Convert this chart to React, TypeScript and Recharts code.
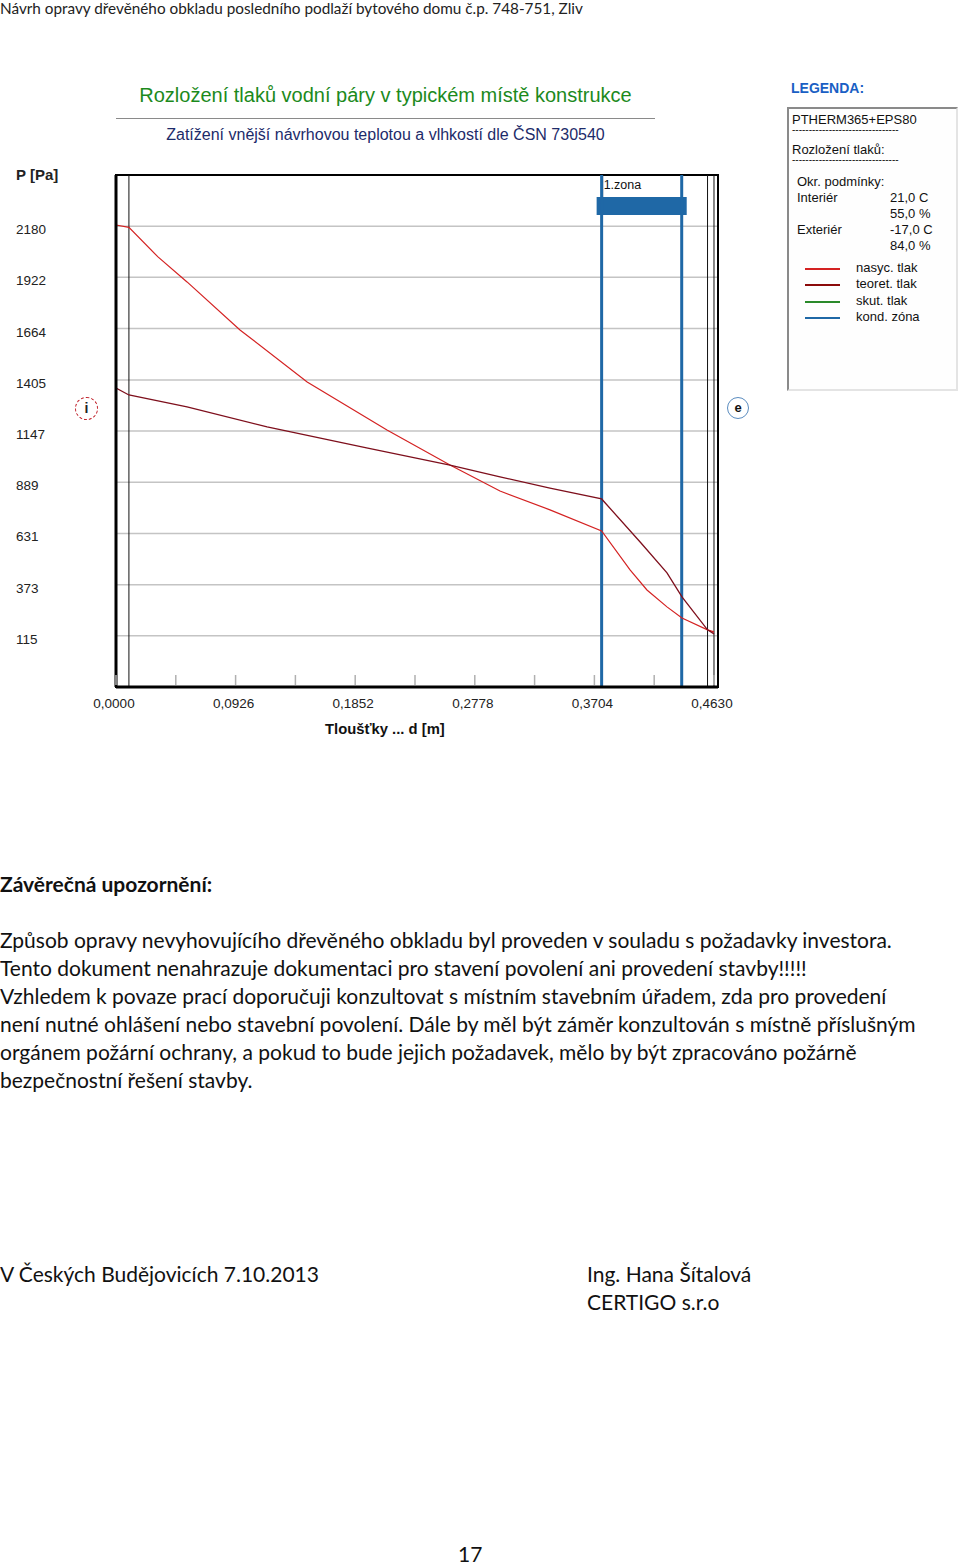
import React from 'react';
import {
  LineChart,
  Line,
  XAxis,
  YAxis,
  CartesianGrid,
  ReferenceLine,
  ReferenceArea,
} from 'recharts';

// tloušťka d [m] a tlaky [Pa]
const SAT_D = [0, 0.01, 0.0325, 0.055, 0.096, 0.148, 0.2098, 0.2586, 0.2973, 0.336, 0.376, 0.398, 0.4111, 0.4266, 0.4382, 0.458, 0.463];
const SAT_P = [2186, 2174, 2025, 1899, 1657, 1395, 1153, 976, 845, 750, 644, 447, 346, 261, 205, 145, 135];

const PART_D = [0, 0.01, 0.055, 0.117, 0.194, 0.2586, 0.2973, 0.336, 0.376, 0.4065, 0.4266, 0.4382, 0.458, 0.463];
const PART_P = [1364, 1329, 1269, 1168, 1062, 976, 916, 860, 805, 583, 432, 311, 145, 125];

const LAYER_BOUNDS = [0.01, 0.458, 0.463];
const ZONE = [0.376, 0.438];

const X_TICKS = [0, 0.0463, 0.0926, 0.1389, 0.1852, 0.2315, 0.2778, 0.3241, 0.3704, 0.4167, 0.463];
const X_LABELLED = [0, 0.0926, 0.1852, 0.2778, 0.3704, 0.463];
const Y_TICKS = [115, 373, 631, 889, 1147, 1405, 1664, 1922, 2180];

const X_DOMAIN: [number, number] = [0, 0.4661];
const Y_DOMAIN: [number, number] = [-143, 2438];

const RED = '#d42222';
const DARK_RED = '#7e0f1c';
const GREEN = '#2a8a2a';
const BLUE = '#1f68a6';

const LEGEND_ITEMS = [
  { label: 'nasyc. tlak', color: RED },
  { label: 'teoret. tlak', color: '#8b0a0a' },
  { label: 'skut. tlak', color: GREEN },
  { label: 'kond. zóna', color: BLUE },
];

const BODY_LINES = [
  'Způsob opravy nevyhovujícího dřevěného obkladu byl proveden v souladu s požadavky investora.',
  'Tento dokument nenahrazuje dokumentaci pro stavení povolení ani provedení stavby!!!!!',
  'Vzhledem k povaze prací doporučuji konzultovat s místním stavebním úřadem, zda pro provedení',
  'není nutné ohlášení nebo stavební povolení. Dále by měl být záměr konzultován s místně příslušným',
  'orgánem požární ochrany, a pokud to bude jejich požadavek, mělo by být zpracováno požárně',
  'bezpečnostní řešení stavby.',
];

const saturation = SAT_D.map((d, i) => ({ d, p: SAT_P[i] }));
const partial = PART_D.map((d, i) => ({ d, p: PART_P[i] }));

const CHART_FONT = '"Liberation Sans", Arial, sans-serif';
const PAGE_FONT = 'Lato, "Open Sans", sans-serif';
const PAGE_SIZE = 21;

const fmt = (v: number) => v.toFixed(4).replace('.', ',');

const YTick = (props: any) => {
  const { x, y, payload } = props;
  return (
    <text x={x - 100} y={y} dy={8} textAnchor="start" fontSize={13.5} fill="#222" fontFamily={CHART_FONT}>
      {payload.value}
    </text>
  );
};

const XTick = (props: any) => {
  const { x, y, payload } = props;
  const labelled = X_LABELLED.includes(payload.value);
  return (
    <g>
      <line x1={x} y1={y - 2} x2={x} y2={y - 12} stroke="#b0b0b0" strokeWidth={1.5} />
      {labelled && (
        <text x={x - 2} y={y + 21} textAnchor="middle" fontSize={13.5} fill="#222" fontFamily={CHART_FONT}>
          {fmt(payload.value)}
        </text>
      )}
    </g>
  );
};

const ZoneBar = (props: any) => {
  const { x, y, width } = props;
  return (
    <g>
      <line x1={x + 1} y1={y} x2={x + 1} y2={y + 22} stroke="#000" strokeWidth={1} />
      <text x={x + 2} y={y + 14} fontSize={12.5} fill="#111" fontFamily={CHART_FONT}>
        1.zona
      </text>
      <rect x={x - 5} y={y + 22} width={width + 10} height={18} fill={BLUE} />
    </g>
  );
};

const abs = (left: number, top: number, extra: React.CSSProperties = {}): React.CSSProperties => ({
  position: 'absolute',
  left,
  top,
  whiteSpace: 'nowrap',
  ...extra,
});

export default function App() {
  return (
    <div style={{ position: 'absolute', left: 0, top: 0, width: 960, height: 1565, background: '#fff', overflow: 'hidden' }}>
      {/* page header */}
      <div style={abs(0, 0, { fontFamily: PAGE_FONT, fontSize: 15.3, lineHeight: '17px', color: '#222' })}>
        Návrh opravy dřevěného obkladu posledního podlaží bytového domu č.p. 748-751, Zliv
      </div>

      {/* chart titles */}
      <div style={abs(116, 84, { width: 539, textAlign: 'center', fontFamily: CHART_FONT, fontSize: 20, color: '#1c8a1c' })}>
        Rozložení tlaků vodní páry v typickém místě konstrukce
      </div>
      <div style={abs(116, 118, { width: 539, borderTop: '1px solid #8a8a8a' })} />
      <div style={abs(116, 126, { width: 539, textAlign: 'center', fontFamily: CHART_FONT, fontSize: 16, color: '#1d2b6a' })}>
        Zatížení vnější návrhovou teplotou a vlhkostí dle ČSN 730540
      </div>
      <div style={abs(16, 166, { fontFamily: CHART_FONT, fontSize: 15, fontWeight: 'bold', color: '#222' })}>P [Pa]</div>

      <div style={abs(0, 0)}>
        <LineChart width={760} height={760} margin={{ top: 175, right: 42, left: 16, bottom: 43 }}>
          <CartesianGrid horizontal vertical={false} stroke="#c4c4c4" strokeWidth={1.5} />
          <XAxis
            type="number"
            dataKey="d"
            domain={X_DOMAIN}
            ticks={X_TICKS}
            interval={0}
            tick={<XTick />}
            tickLine={false}
            tickSize={0}
            tickMargin={0}
            axisLine={{ stroke: '#000', strokeWidth: 3 }}
            height={30}
            allowDataOverflow
          />
          <YAxis
            type="number"
            dataKey="p"
            domain={Y_DOMAIN}
            ticks={Y_TICKS}
            interval={0}
            tick={<YTick />}
            tickLine={false}
            tickSize={0}
            tickMargin={0}
            axisLine={{ stroke: '#000', strokeWidth: 3 }}
            width={100}
            allowDataOverflow
          />
          <ReferenceArea
            x1={X_DOMAIN[0]}
            x2={X_DOMAIN[1]}
            y1={Y_DOMAIN[0]}
            y2={Y_DOMAIN[1]}
            fill="none"
            stroke="#000"
            strokeWidth={2}
            fillOpacity={0}
            ifOverflow="visible"
          />
          {LAYER_BOUNDS.map((b) => (
            <ReferenceLine key={b} x={b} stroke="#111" strokeWidth={1} />
          ))}
          <ReferenceArea x1={ZONE[0]} x2={ZONE[1]} y1={Y_DOMAIN[0]} y2={Y_DOMAIN[1]} shape={<ZoneBar />} ifOverflow="visible" />
          {ZONE.map((z) => (
            <ReferenceLine key={z} x={z} stroke={BLUE} strokeWidth={3} />
          ))}
          <Line data={saturation} dataKey="p" type="linear" stroke={RED} strokeWidth={1.2} dot={false} isAnimationActive={false} />
          <Line data={partial} dataKey="p" type="linear" stroke={DARK_RED} strokeWidth={1.3} dot={false} isAnimationActive={false} />
        </LineChart>
      </div>

      {/* interior / exterior markers */}
      <div
        style={abs(75, 397, {
          width: 21,
          height: 21,
          borderRadius: '50%',
          border: '1.5px dashed #c0202a',
          textAlign: 'center',
          lineHeight: '21px',
          fontFamily: CHART_FONT,
          fontSize: 14,
          fontWeight: 'bold',
          color: '#222',
        })}
      >
        i
      </div>
      <div
        style={abs(727, 397, {
          width: 20,
          height: 20,
          borderRadius: '50%',
          border: '1.5px solid #5a8cbf',
          textAlign: 'center',
          lineHeight: '19px',
          fontFamily: CHART_FONT,
          fontSize: 13,
          fontWeight: 'bold',
          color: '#111',
        })}
      >
        e
      </div>

      <div style={abs(325, 721, { fontFamily: CHART_FONT, fontSize: 14.8, fontWeight: 'bold', color: '#111' })}>
        Tloušťky ... d [m]
      </div>

      {/* legend */}
      <div style={abs(791, 80, { fontFamily: CHART_FONT, fontSize: 14, fontWeight: 'bold', color: '#1a5fc4' })}>LEGENDA:</div>
      <div
        style={abs(787, 107, {
          width: 167,
          height: 280,
          borderLeft: '2px solid #8a8a8a',
          borderTop: '2px solid #8a8a8a',
          borderRight: '2px solid #e4e4e4',
          borderBottom: '2px solid #e4e4e4',
          background: '#fefefe',
          fontFamily: CHART_FONT,
          fontSize: 13,
          color: '#111',
        })}
      >
        <div style={abs(3, 3)}>PTHERM365+EPS80</div>
        <div style={abs(3, 15, { fontSize: 10 })}>--------------------------------</div>
        <div style={abs(3, 33)}>Rozložení tlaků:</div>
        <div style={abs(3, 45, { fontSize: 10 })}>--------------------------------</div>
        <div style={abs(8, 65)}>Okr. podmínky:</div>
        <div style={abs(8, 81)}>Interiér</div>
        <div style={abs(101, 81)}>21,0 C</div>
        <div style={abs(101, 97)}>55,0 %</div>
        <div style={abs(8, 113)}>Exteriér</div>
        <div style={abs(101, 113)}>-17,0 C</div>
        <div style={abs(101, 129)}>84,0 %</div>
        {LEGEND_ITEMS.map((it, i) => (
          <React.Fragment key={it.label}>
            <div style={abs(16, 159 + i * 16.3, { width: 35, borderTop: `2px solid ${it.color}` })} />
            <div style={abs(67, 151 + i * 16.3)}>{it.label}</div>
          </React.Fragment>
        ))}
      </div>

      {/* closing text */}
      <div style={abs(0, 871, { fontFamily: PAGE_FONT, fontSize: PAGE_SIZE, fontWeight: 'bold', color: '#111' })}>
        Závěrečná upozornění:
      </div>
      {BODY_LINES.map((line, i) => (
        <div key={i} style={abs(0, 927 + i * 28, { fontFamily: PAGE_FONT, fontSize: PAGE_SIZE, color: '#111' })}>
          {line}
        </div>
      ))}
      <div style={abs(0, 1261, { fontFamily: PAGE_FONT, fontSize: PAGE_SIZE, color: '#111' })}>V Českých Budějovicích 7.10.2013</div>
      <div style={abs(587, 1261, { fontFamily: PAGE_FONT, fontSize: PAGE_SIZE, color: '#111' })}>Ing. Hana Šítalová</div>
      <div style={abs(587, 1289, { fontFamily: PAGE_FONT, fontSize: PAGE_SIZE, color: '#111' })}>CERTIGO s.r.o</div>
      <div style={abs(458, 1541, { fontFamily: PAGE_FONT, fontSize: PAGE_SIZE, color: '#111' })}>17</div>
    </div>
  );
}
